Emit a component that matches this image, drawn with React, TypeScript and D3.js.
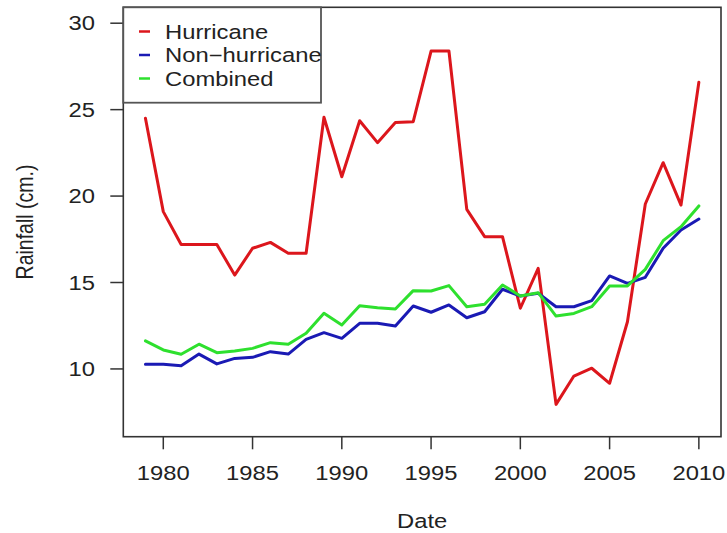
import React from "react";
import * as d3 from "d3";

const years: number[] = d3.range(1979, 2011);
const hurricane: number[] = [
  24.5, 19.1, 17.2, 17.2, 17.2, 15.43, 16.98, 17.32, 16.69, 16.69,
  24.56, 21.12, 24.36, 23.09, 24.26, 24.3, 28.39, 28.39, 19.23, 17.65,
  17.65, 13.51, 15.82, 7.95, 9.59, 10.04, 9.17, 12.73, 19.54, 21.93,
  19.48, 26.58,
];
const nonHurricane: number[] = [
  10.27, 10.27, 10.19, 10.86, 10.29, 10.61, 10.67, 11.0, 10.86, 11.71,
  12.1, 11.77, 12.64, 12.64, 12.48, 13.64, 13.28, 13.7, 12.96, 13.31,
  14.61, 14.22, 14.38, 13.6, 13.6, 13.95, 15.38, 14.95, 15.3, 16.98,
  18.04, 18.67,
];
const combined: number[] = [
  11.62, 11.1, 10.85, 11.43, 10.94, 11.04, 11.19, 11.52, 11.43, 12.06,
  13.22, 12.54, 13.65, 13.54, 13.47, 14.53, 14.51, 14.82, 13.6, 13.74,
  14.86, 14.22, 14.41, 13.06, 13.21, 13.6, 14.8, 14.8, 15.76, 17.42,
  18.23, 19.43,
];
const xTicks: number[] = [1980, 1985, 1990, 1995, 2000, 2005, 2010];
const yTicks: number[] = [10, 15, 20, 25, 30];
const seriesNames: string[] = ["Hurricane", "Non\u2212hurricane", "Combined"];
const seriesColors: string[] = ["#dc161c", "#1a1ab4", "#2ee02e"];

const W = 727;
const H = 533;
const left = 123.3;
const right = 721;
const top = 7.3;
const bottom = 436.7;
const SX = 1.22;
const FS = 19.5;
const FONT = "'Liberation Sans', Arial, Helvetica, sans-serif";
const TXT = "#222";

export default function App() {
  // R-style 4% extension
  const xr = [1979, 2010];
  const xe = (xr[1] - xr[0]) * 0.04;
  const yr = [7, 30];
  const ye = (yr[1] - yr[0]) * 0.04;
  const x = d3.scaleLinear().domain([xr[0] - xe, xr[1] + xe]).range([left, right]);
  const y = d3.scaleLinear().domain([yr[0] - ye, yr[1] + ye]).range([bottom, top]);

  const line = d3
    .line<number>()
    .x((_, i) => x(years[i]))
    .y((d) => y(d));

  const series = [hurricane, nonHurricane, combined];

  const stretched = (
    tx: number,
    ty: number,
    text: string,
    anchor: "start" | "middle" | "end",
    key?: string | number,
    dy?: string
  ) => (
    <g key={key} transform={`translate(${tx},${ty}) scale(${SX},1)`}>
      <text
        textAnchor={anchor}
        dy={dy}
        fontFamily={FONT}
        fontSize={FS}
        fill={TXT}
      >
        {text}
      </text>
    </g>
  );

  const legX0 = left;
  const legY0 = top;
  const legX1 = 321;
  const legY1 = 102.7;
  const legRows = [38.5, 62, 85.5];

  return (
    <svg
      width={W}
      height={H}
      style={{ position: "absolute", left: 0, top: 0, background: "#fff" }}
    >
      <rect x={0} y={0} width={W} height={H} fill="#fff" />
      {/* series */}
      {series.map((s, i) => (
        <path
          key={i}
          d={line(s) || ""}
          fill="none"
          stroke={seriesColors[i]}
          strokeWidth={3}
          strokeLinejoin="round"
          strokeLinecap="round"
        />
      ))}
      {/* plot box */}
      <rect
        x={left}
        y={top}
        width={right - left}
        height={bottom - top}
        fill="none"
        stroke="#333"
        strokeWidth={1.6}
      />
      {/* x axis */}
      {xTicks.map((t) => (
        <g key={"xt" + t}>
          <line x1={x(t)} x2={x(t)} y1={bottom} y2={bottom + 12.6} stroke="#333" strokeWidth={1.5} />
          {stretched(x(t), 480, String(t), "middle")}
        </g>
      ))}
      {/* y axis */}
      {yTicks.map((t) => (
        <g key={"yt" + t}>
          <line x1={left - 13} x2={left} y1={y(t)} y2={y(t)} stroke="#333" strokeWidth={1.5} />
          {stretched(95, y(t), String(t), "end", undefined, "0.36em")}
        </g>
      ))}
      {/* axis titles */}
      {stretched((left + right) / 2, 528, "Date", "middle")}
      <g transform={`translate(33,${(top + bottom) / 2}) scale(1.24,1) rotate(-90)`}>
        <text textAnchor="middle" fontFamily={FONT} fontSize={FS} fill={TXT}>
          Rainfall (cm.)
        </text>
      </g>
      {/* legend */}
      <rect
        x={legX0}
        y={legY0}
        width={legX1 - legX0}
        height={legY1 - legY0}
        fill="#fff"
        stroke="#555"
        strokeWidth={1.8}
      />
      {seriesNames.map((n, i) => (
        <g key={"lg" + i}>
          <line
            x1={139}
            x2={150}
            y1={legRows[i] - 7}
            y2={legRows[i] - 7}
            stroke={seriesColors[i]}
            strokeWidth={2.5}
          />
          {stretched(165, legRows[i], n, "start")}
        </g>
      ))}
    </svg>
  );
}
